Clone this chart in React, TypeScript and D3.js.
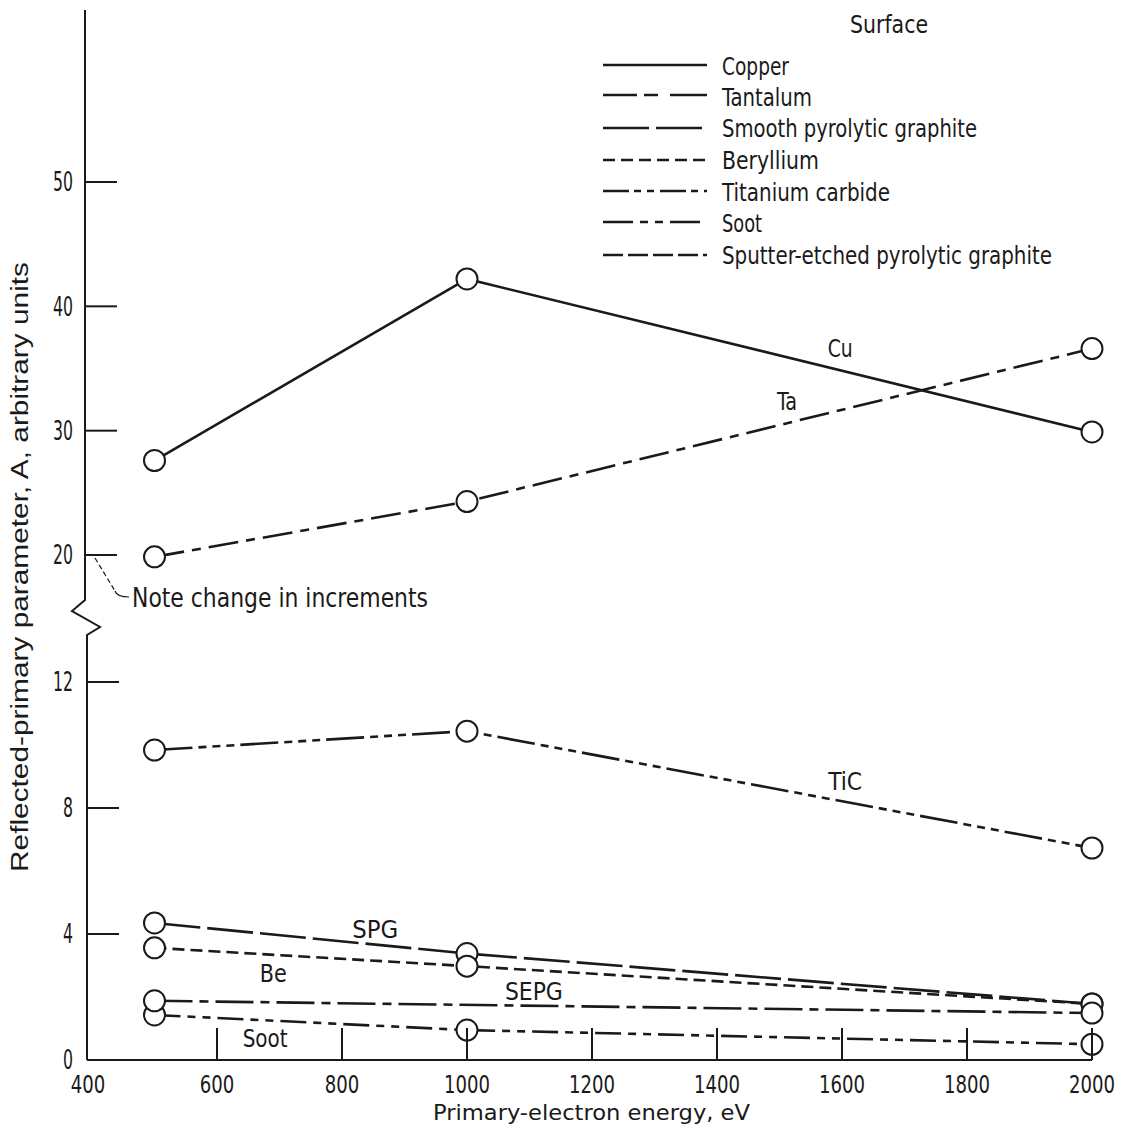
import React from "react";
import * as d3 from "d3";

const W = 1130;
const H = 1132;

// Data
const energies = [500, 1000, 2000];
const copper = [27.6, 42.2, 29.9];
const tantalum = [19.85, 24.3, 36.6];
const smoothPG = [4.35, 3.38, 1.78];
const beryllium = [3.56, 2.98, 1.78];
const titaniumCarbide = [9.84, 10.44, 6.73];
const soot = [1.43, 0.95, 0.5];
const sepgEnergies = [500, 2000];
const sputterEtchedPG = [1.88, 1.49];

const xTicks = [400, 600, 800, 1000, 1200, 1400, 1600, 1800, 2000];
const yTicksLow = [0, 4, 8, 12];
const yTicksHigh = [20, 30, 40, 50];

const seriesNames = [
  "Copper",
  "Tantalum",
  "Smooth pyrolytic graphite",
  "Beryllium",
  "Titanium carbide",
  "Soot",
  "Sputter-etched pyrolytic graphite",
];
const seriesShort = ["Cu", "Ta", "SPG", "Be", "TiC", "Soot", "SEPG"];
// curve-label anchors in data units: energy, value
const labelEnergy = [1597, 1512, 853, 690, 1605, 677, 1107];
const labelValue = [35.9, 31.7, 3.87, 2.48, 8.57, 0.41, 1.9];

const dashes = [
  "none",
  "30,8,9,8",
  "46,7",
  "12,6",
  "38,6,8,6,8,6,8,6",
  "26,7,8,7,8,7",
  "38,7,9,7",
];
const legendDashes = [
  "none",
  "34,7,14,12,40",
  "46,7",
  "12,6",
  "26,5,7,6,7,6",
  "30,7,8,7,8,7",
  "20,5",
];

const NARROW = "'Liberation Sans Narrow', 'DejaVu Sans Condensed', 'Liberation Sans', sans-serif";
const SANS = "'Liberation Sans', Arial, sans-serif";

export default function App() {
  const x = d3.scaleLinear().domain([400, 2000]).range([92, 1092]);
  const yLow = d3.scaleLinear().domain([0, 12]).range([1060, 682]);
  const yHigh = d3.scaleLinear().domain([20, 50]).range([555, 182]);
  const y = (v: number) => (v <= 16 ? yLow(v) : yHigh(v));

  const axLowX = 87;
  const axHighX = 85;
  const breakTop = 600;
  const breakBot = 635;

  const series = [
    { xs: energies, ys: copper },
    { xs: energies, ys: tantalum },
    { xs: energies, ys: smoothPG },
    { xs: energies, ys: beryllium },
    { xs: energies, ys: titaniumCarbide },
    { xs: energies, ys: soot },
    { xs: sepgEnergies, ys: sputterEtchedPG },
  ];

  const line = d3
    .line<[number, number]>()
    .x((d) => x(d[0]))
    .y((d) => y(d[1]));

  const stroke = "#1a1a1a";
  const R = 10.5;
  const labelWidths = [25, 20, 46, 27, 34, 45, 58];

  const legendX1 = 603;
  const legendX2 = 707;
  const legendRows = [65, 95, 128, 160, 191, 222, 255];
  const legendBase = [75, 106, 137, 169, 201, 232, 264];
  const legendWidths = [67, 90, 255, 97, 168, 40, 330];

  return (
    <svg
      width={W}
      height={H}
      viewBox={`0 0 ${W} ${H}`}
      style={{ display: "block", background: "#fff", position: "absolute", left: 0, top: 0 }}
    >
      <rect x={0} y={0} width={W} height={H} fill="#fff" />
      {/* Y axis with break */}
      <path
        d={`M${axHighX},10 L${axHighX},${breakTop} L${axHighX - 13},${breakTop + 11} L${axHighX + 15},${breakTop + 27} L${axLowX},${breakBot} L${axLowX},${yLow(0)}`}
        fill="none"
        stroke={stroke}
        strokeWidth={2}
        strokeLinejoin="miter"
      />
      {/* X axis */}
      <line x1={axLowX} x2={x(2000)} y1={yLow(0)} y2={yLow(0)} stroke={stroke} strokeWidth={2} />

      {/* Y ticks */}
      {yTicksHigh.map((t) => (
        <g key={"h" + t}>
          <line x1={axHighX} x2={axHighX + 32} y1={yHigh(t)} y2={yHigh(t)} stroke={stroke} strokeWidth={2} />
          <text
            x={73}
            y={yHigh(t)}
            dy="0.36em"
            textAnchor="end"
            fontFamily={NARROW}
            fontSize={26}
            fill={stroke}
            textLength={String(t).length * 10}
            lengthAdjust="spacingAndGlyphs"
          >
            {t}
          </text>
        </g>
      ))}
      {yTicksLow.map((t) => (
        <g key={"l" + t}>
          {t !== 0 && (
            <line x1={axLowX} x2={axLowX + 32} y1={yLow(t)} y2={yLow(t)} stroke={stroke} strokeWidth={2} />
          )}
          <text
            x={73}
            y={yLow(t)}
            dy="0.36em"
            textAnchor="end"
            fontFamily={NARROW}
            fontSize={26}
            fill={stroke}
            textLength={String(t).length * 10}
            lengthAdjust="spacingAndGlyphs"
          >
            {t}
          </text>
        </g>
      ))}

      {/* Series lines */}
      {series.map((s, i) => (
        <path
          key={"s" + i}
          d={line(s.xs.map((e, j) => [e, s.ys[j]] as [number, number])) || ""}
          fill="none"
          stroke={stroke}
          strokeWidth={2.6}
          strokeDasharray={dashes[i]}
        />
      ))}

      {/* Markers */}
      {series.map((s, i) =>
        s.xs.map((e, j) => (
          <circle
            key={"c" + i + "-" + j}
            cx={x(e)}
            cy={y(s.ys[j])}
            r={R}
            fill="#fff"
            stroke={stroke}
            strokeWidth={2}
          />
        ))
      )}

      {/* X ticks (inward) */}
      {xTicks.map((t) => (
        <g key={"x" + t}>
          {t !== 400 && (
            <line x1={x(t)} x2={x(t)} y1={yLow(0)} y2={yLow(0) - 32} stroke={stroke} strokeWidth={2} />
          )}
          <text
            x={t === 400 ? x(t) - 4 : x(t)}
            y={1093}
            textAnchor="middle"
            fontFamily={NARROW}
            fontSize={25}
            fill={stroke}
            textLength={String(t).length * 11.5}
            lengthAdjust="spacingAndGlyphs"
          >
            {t}
          </text>
        </g>
      ))}

      {/* Curve labels */}
      {seriesShort.map((s, i) => (
        <text
          key={"lab" + i}
          x={x(labelEnergy[i])}
          y={y(labelValue[i])}
          textAnchor="middle"
          fontFamily={NARROW}
          fontSize={25}
          fill={stroke}
          textLength={labelWidths[i]}
          lengthAdjust="spacingAndGlyphs"
        >
          {s}
        </text>
      ))}

      {/* Note annotation */}
      <path
        d={`M${axHighX + 10},${yHigh(20) + 3} L${axHighX + 30},${yHigh(20) + 36}`}
        fill="none"
        stroke={stroke}
        strokeWidth={1.2}
        strokeDasharray="5,3"
      />
      <path
        d={`M${axHighX + 30},${yHigh(20) + 36} Q${axHighX + 32},${yHigh(20) + 42} ${axHighX + 44},${yHigh(20) + 42}`}
        fill="none"
        stroke={stroke}
        strokeWidth={1.2}
      />
      <text x={132} y={607} fontFamily={NARROW} fontSize={26} fill={stroke} textLength={296} lengthAdjust="spacingAndGlyphs">
        Note change in increments
      </text>

      {/* Legend */}
      <text x={850} y={33} fontFamily={NARROW} fontSize={25} fill={stroke} textLength={78} lengthAdjust="spacingAndGlyphs">
        Surface
      </text>
      {seriesNames.map((n, i) => (
        <g key={"lg" + i}>
          <line
            x1={legendX1}
            x2={legendX2}
            y1={legendRows[i]}
            y2={legendRows[i]}
            stroke={stroke}
            strokeWidth={2.4}
            strokeDasharray={legendDashes[i]}
          />
          <text
            x={722}
            y={legendBase[i]}
            fontFamily={NARROW}
            fontSize={25}
            fill={stroke}
            textLength={legendWidths[i]}
            lengthAdjust="spacingAndGlyphs"
          >
            {n}
          </text>
        </g>
      ))}

      {/* Axis titles */}
      <text x={433} y={1120} fontFamily={NARROW} fontSize={22} fill={stroke} textLength={317} lengthAdjust="spacingAndGlyphs">
        Primary-electron energy, eV
      </text>
      <text
        transform={`translate(28, 872) rotate(-90)`}
        x={0}
        y={0}
        fontFamily={SANS}
        fontSize={23}
        fill={stroke}
        textLength={610}
        lengthAdjust="spacingAndGlyphs"
      >
        Reflected-primary parameter, A, arbitrary units
      </text>
    </svg>
  );
}
